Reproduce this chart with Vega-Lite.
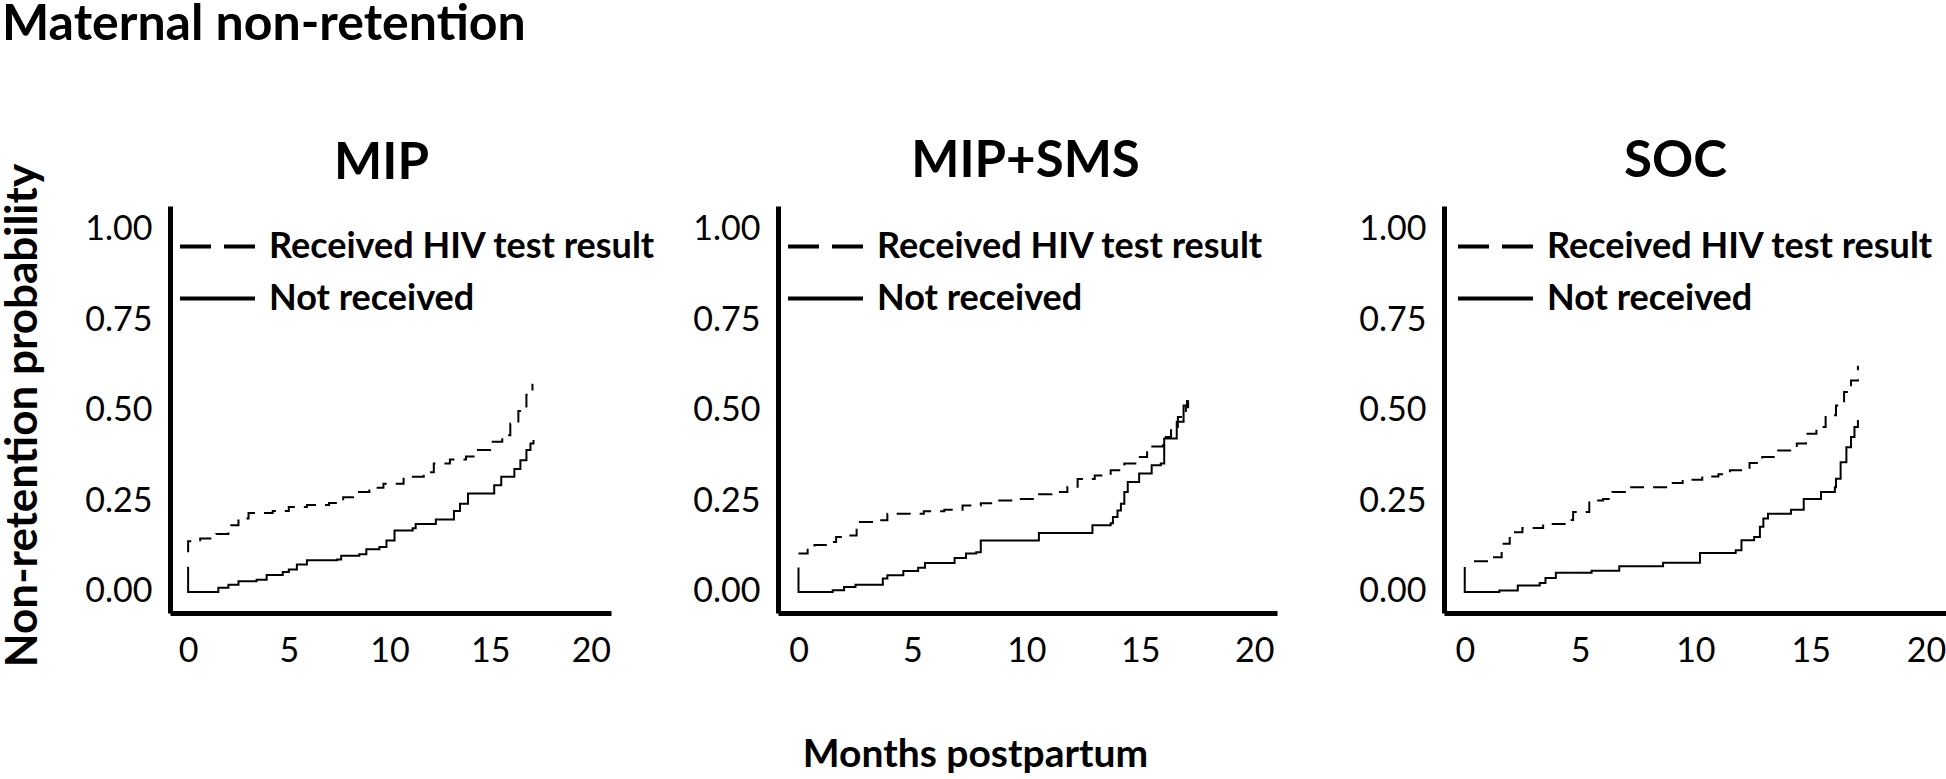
{
"$schema": "https://vega.github.io/schema/vega-lite/v6.json",
"autosize": {"type": "pad"},
"padding": {"left": 0, "top": 0, "right": 0, "bottom": 0},
"background": "white",
"title": {"text": "Maternal non-retention", "anchor": "start", "frame": "group", "fontSize": 50, "fontWeight": "bold", "font": "Lato", "color": "black", "dx": -168, "offset": 86},
"datasets": {"km": [
{"panel":"MIP","g":"Not received","k":0,"t":0,"p":0.07},
{"panel":"MIP","g":"Not received","k":1,"t":0,"p":0},
{"panel":"MIP","g":"Not received","k":2,"t":1.5,"p":0.012},
{"panel":"MIP","g":"Not received","k":3,"t":2.0,"p":0.02},
{"panel":"MIP","g":"Not received","k":4,"t":2.5,"p":0.03},
{"panel":"MIP","g":"Not received","k":5,"t":3.4,"p":0.034},
{"panel":"MIP","g":"Not received","k":6,"t":3.9,"p":0.047},
{"panel":"MIP","g":"Not received","k":7,"t":4.7,"p":0.055},
{"panel":"MIP","g":"Not received","k":8,"t":5.0,"p":0.062},
{"panel":"MIP","g":"Not received","k":9,"t":5.4,"p":0.076},
{"panel":"MIP","g":"Not received","k":10,"t":5.9,"p":0.088},
{"panel":"MIP","g":"Not received","k":11,"t":7.4,"p":0.09},
{"panel":"MIP","g":"Not received","k":12,"t":7.6,"p":0.1},
{"panel":"MIP","g":"Not received","k":13,"t":8.5,"p":0.104},
{"panel":"MIP","g":"Not received","k":14,"t":8.85,"p":0.118},
{"panel":"MIP","g":"Not received","k":15,"t":9.5,"p":0.124},
{"panel":"MIP","g":"Not received","k":16,"t":9.85,"p":0.142},
{"panel":"MIP","g":"Not received","k":17,"t":10.25,"p":0.17},
{"panel":"MIP","g":"Not received","k":18,"t":11.15,"p":0.176},
{"panel":"MIP","g":"Not received","k":19,"t":11.3,"p":0.188},
{"panel":"MIP","g":"Not received","k":20,"t":12.3,"p":0.2},
{"panel":"MIP","g":"Not received","k":21,"t":13.2,"p":0.224},
{"panel":"MIP","g":"Not received","k":22,"t":13.5,"p":0.244},
{"panel":"MIP","g":"Not received","k":23,"t":13.9,"p":0.272},
{"panel":"MIP","g":"Not received","k":24,"t":15.2,"p":0.295},
{"panel":"MIP","g":"Not received","k":25,"t":15.55,"p":0.318},
{"panel":"MIP","g":"Not received","k":26,"t":16.2,"p":0.34},
{"panel":"MIP","g":"Not received","k":27,"t":16.5,"p":0.364},
{"panel":"MIP","g":"Not received","k":28,"t":16.8,"p":0.392},
{"panel":"MIP","g":"Not received","k":29,"t":17.0,"p":0.41},
{"panel":"MIP","g":"Not received","k":30,"t":17.15,"p":0.42},
{"panel":"MIP","g":"Received HIV test result","k":0,"t":0,"p":0.11},
{"panel":"MIP","g":"Received HIV test result","k":1,"t":0,"p":0.14},
{"panel":"MIP","g":"Received HIV test result","k":2,"t":0.6,"p":0.148},
{"panel":"MIP","g":"Received HIV test result","k":3,"t":1.4,"p":0.16},
{"panel":"MIP","g":"Received HIV test result","k":4,"t":2.0,"p":0.184},
{"panel":"MIP","g":"Received HIV test result","k":5,"t":2.5,"p":0.203},
{"panel":"MIP","g":"Received HIV test result","k":6,"t":3.0,"p":0.218},
{"panel":"MIP","g":"Received HIV test result","k":7,"t":4.2,"p":0.224},
{"panel":"MIP","g":"Received HIV test result","k":8,"t":5.0,"p":0.235},
{"panel":"MIP","g":"Received HIV test result","k":9,"t":5.9,"p":0.24},
{"panel":"MIP","g":"Received HIV test result","k":10,"t":7.0,"p":0.246},
{"panel":"MIP","g":"Received HIV test result","k":11,"t":7.7,"p":0.262},
{"panel":"MIP","g":"Received HIV test result","k":12,"t":8.4,"p":0.276},
{"panel":"MIP","g":"Received HIV test result","k":13,"t":9.0,"p":0.288},
{"panel":"MIP","g":"Received HIV test result","k":14,"t":9.7,"p":0.299},
{"panel":"MIP","g":"Received HIV test result","k":15,"t":10.7,"p":0.318},
{"panel":"MIP","g":"Received HIV test result","k":16,"t":11.7,"p":0.331},
{"panel":"MIP","g":"Received HIV test result","k":17,"t":12.2,"p":0.355},
{"panel":"MIP","g":"Received HIV test result","k":18,"t":13.0,"p":0.366},
{"panel":"MIP","g":"Received HIV test result","k":19,"t":13.8,"p":0.374},
{"panel":"MIP","g":"Received HIV test result","k":20,"t":14.3,"p":0.392},
{"panel":"MIP","g":"Received HIV test result","k":21,"t":15.0,"p":0.415},
{"panel":"MIP","g":"Received HIV test result","k":22,"t":15.6,"p":0.433},
{"panel":"MIP","g":"Received HIV test result","k":23,"t":16.0,"p":0.465},
{"panel":"MIP","g":"Received HIV test result","k":24,"t":16.4,"p":0.5},
{"panel":"MIP","g":"Received HIV test result","k":25,"t":16.8,"p":0.545},
{"panel":"MIP","g":"Received HIV test result","k":26,"t":17.1,"p":0.575},
{"panel":"SMS","g":"Not received","k":0,"t":0,"p":0.068},
{"panel":"SMS","g":"Not received","k":1,"t":0,"p":0},
{"panel":"SMS","g":"Not received","k":2,"t":1.5,"p":0.005},
{"panel":"SMS","g":"Not received","k":3,"t":2.0,"p":0.014},
{"panel":"SMS","g":"Not received","k":4,"t":2.5,"p":0.02},
{"panel":"SMS","g":"Not received","k":5,"t":3.7,"p":0.037},
{"panel":"SMS","g":"Not received","k":6,"t":3.9,"p":0.046},
{"panel":"SMS","g":"Not received","k":7,"t":4.6,"p":0.058},
{"panel":"SMS","g":"Not received","k":8,"t":5.25,"p":0.067},
{"panel":"SMS","g":"Not received","k":9,"t":5.55,"p":0.08},
{"panel":"SMS","g":"Not received","k":10,"t":6.85,"p":0.094},
{"panel":"SMS","g":"Not received","k":11,"t":7.35,"p":0.106},
{"panel":"SMS","g":"Not received","k":12,"t":7.8,"p":0.11},
{"panel":"SMS","g":"Not received","k":13,"t":8.0,"p":0.142},
{"panel":"SMS","g":"Not received","k":14,"t":10.55,"p":0.163},
{"panel":"SMS","g":"Not received","k":15,"t":12.9,"p":0.184},
{"panel":"SMS","g":"Not received","k":16,"t":13.7,"p":0.19},
{"panel":"SMS","g":"Not received","k":17,"t":13.8,"p":0.207},
{"panel":"SMS","g":"Not received","k":18,"t":14.0,"p":0.225},
{"panel":"SMS","g":"Not received","k":19,"t":14.15,"p":0.244},
{"panel":"SMS","g":"Not received","k":20,"t":14.3,"p":0.276},
{"panel":"SMS","g":"Not received","k":21,"t":14.45,"p":0.304},
{"panel":"SMS","g":"Not received","k":22,"t":14.95,"p":0.327},
{"panel":"SMS","g":"Not received","k":23,"t":15.5,"p":0.35},
{"panel":"SMS","g":"Not received","k":24,"t":15.9,"p":0.355},
{"panel":"SMS","g":"Not received","k":25,"t":16.05,"p":0.424},
{"panel":"SMS","g":"Not received","k":26,"t":16.6,"p":0.47},
{"panel":"SMS","g":"Not received","k":27,"t":16.9,"p":0.515},
{"panel":"SMS","g":"Not received","k":28,"t":17.05,"p":0.53},
{"panel":"SMS","g":"Received HIV test result","k":0,"t":0,"p":0.106},
{"panel":"SMS","g":"Received HIV test result","k":1,"t":0.4,"p":0.12},
{"panel":"SMS","g":"Received HIV test result","k":2,"t":0.7,"p":0.13},
{"panel":"SMS","g":"Received HIV test result","k":3,"t":1.45,"p":0.138},
{"panel":"SMS","g":"Received HIV test result","k":4,"t":1.65,"p":0.152},
{"panel":"SMS","g":"Received HIV test result","k":5,"t":2.0,"p":0.156},
{"panel":"SMS","g":"Received HIV test result","k":6,"t":2.55,"p":0.193},
{"panel":"SMS","g":"Received HIV test result","k":7,"t":3.35,"p":0.198},
{"panel":"SMS","g":"Received HIV test result","k":8,"t":3.9,"p":0.216},
{"panel":"SMS","g":"Received HIV test result","k":9,"t":5.5,"p":0.223},
{"panel":"SMS","g":"Received HIV test result","k":10,"t":6.4,"p":0.227},
{"panel":"SMS","g":"Received HIV test result","k":11,"t":7.2,"p":0.239},
{"panel":"SMS","g":"Received HIV test result","k":12,"t":8.0,"p":0.245},
{"panel":"SMS","g":"Received HIV test result","k":13,"t":8.75,"p":0.253},
{"panel":"SMS","g":"Received HIV test result","k":14,"t":9.5,"p":0.257},
{"panel":"SMS","g":"Received HIV test result","k":15,"t":10.35,"p":0.27},
{"panel":"SMS","g":"Received HIV test result","k":16,"t":11.1,"p":0.276},
{"panel":"SMS","g":"Received HIV test result","k":17,"t":11.8,"p":0.291},
{"panel":"SMS","g":"Received HIV test result","k":18,"t":12.25,"p":0.312},
{"panel":"SMS","g":"Received HIV test result","k":19,"t":13.0,"p":0.322},
{"panel":"SMS","g":"Received HIV test result","k":20,"t":13.7,"p":0.336},
{"panel":"SMS","g":"Received HIV test result","k":21,"t":14.3,"p":0.355},
{"panel":"SMS","g":"Received HIV test result","k":22,"t":14.9,"p":0.373},
{"panel":"SMS","g":"Received HIV test result","k":23,"t":15.3,"p":0.402},
{"panel":"SMS","g":"Received HIV test result","k":24,"t":16.0,"p":0.428},
{"panel":"SMS","g":"Received HIV test result","k":25,"t":16.35,"p":0.456},
{"panel":"SMS","g":"Received HIV test result","k":26,"t":16.65,"p":0.483},
{"panel":"SMS","g":"Received HIV test result","k":27,"t":17.0,"p":0.51},
{"panel":"SMS","g":"Received HIV test result","k":28,"t":17.1,"p":0.55},
{"panel":"SOC","g":"Not received","k":0,"t":0,"p":0.069},
{"panel":"SOC","g":"Not received","k":1,"t":0,"p":0},
{"panel":"SOC","g":"Not received","k":2,"t":1.5,"p":0.004},
{"panel":"SOC","g":"Not received","k":3,"t":2.3,"p":0.018},
{"panel":"SOC","g":"Not received","k":4,"t":3.25,"p":0.025},
{"panel":"SOC","g":"Not received","k":5,"t":3.5,"p":0.039},
{"panel":"SOC","g":"Not received","k":6,"t":3.95,"p":0.053},
{"panel":"SOC","g":"Not received","k":7,"t":5.5,"p":0.059},
{"panel":"SOC","g":"Not received","k":8,"t":6.7,"p":0.071},
{"panel":"SOC","g":"Not received","k":9,"t":8.6,"p":0.081},
{"panel":"SOC","g":"Not received","k":10,"t":10.2,"p":0.108},
{"panel":"SOC","g":"Not received","k":11,"t":11.75,"p":0.115},
{"panel":"SOC","g":"Not received","k":12,"t":12.0,"p":0.143},
{"panel":"SOC","g":"Not received","k":13,"t":12.55,"p":0.152},
{"panel":"SOC","g":"Not received","k":14,"t":12.8,"p":0.18},
{"panel":"SOC","g":"Not received","k":15,"t":12.95,"p":0.203},
{"panel":"SOC","g":"Not received","k":16,"t":13.15,"p":0.216},
{"panel":"SOC","g":"Not received","k":17,"t":14.15,"p":0.227},
{"panel":"SOC","g":"Not received","k":18,"t":14.7,"p":0.257},
{"panel":"SOC","g":"Not received","k":19,"t":15.45,"p":0.276},
{"panel":"SOC","g":"Not received","k":20,"t":16.05,"p":0.289},
{"panel":"SOC","g":"Not received","k":21,"t":16.1,"p":0.313},
{"panel":"SOC","g":"Not received","k":22,"t":16.3,"p":0.358},
{"panel":"SOC","g":"Not received","k":23,"t":16.55,"p":0.4},
{"panel":"SOC","g":"Not received","k":24,"t":16.75,"p":0.428},
{"panel":"SOC","g":"Not received","k":25,"t":16.9,"p":0.456},
{"panel":"SOC","g":"Not received","k":26,"t":17.05,"p":0.475},
{"panel":"SOC","g":"Received HIV test result","k":0,"t":0.4,"p":0.085},
{"panel":"SOC","g":"Received HIV test result","k":1,"t":1.2,"p":0.096},
{"panel":"SOC","g":"Received HIV test result","k":2,"t":1.6,"p":0.133},
{"panel":"SOC","g":"Received HIV test result","k":3,"t":1.95,"p":0.165},
{"panel":"SOC","g":"Received HIV test result","k":4,"t":2.5,"p":0.177},
{"panel":"SOC","g":"Received HIV test result","k":5,"t":3.4,"p":0.188},
{"panel":"SOC","g":"Received HIV test result","k":6,"t":4.45,"p":0.199},
{"panel":"SOC","g":"Received HIV test result","k":7,"t":4.7,"p":0.221},
{"panel":"SOC","g":"Received HIV test result","k":8,"t":5.4,"p":0.253},
{"panel":"SOC","g":"Received HIV test result","k":9,"t":6.0,"p":0.257},
{"panel":"SOC","g":"Received HIV test result","k":10,"t":6.4,"p":0.276},
{"panel":"SOC","g":"Received HIV test result","k":11,"t":7.1,"p":0.289},
{"panel":"SOC","g":"Received HIV test result","k":12,"t":8.9,"p":0.301},
{"panel":"SOC","g":"Received HIV test result","k":13,"t":9.45,"p":0.31},
{"panel":"SOC","g":"Received HIV test result","k":14,"t":10.3,"p":0.319},
{"panel":"SOC","g":"Received HIV test result","k":15,"t":11.0,"p":0.325},
{"panel":"SOC","g":"Received HIV test result","k":16,"t":11.5,"p":0.336},
{"panel":"SOC","g":"Received HIV test result","k":17,"t":12.35,"p":0.356},
{"panel":"SOC","g":"Received HIV test result","k":18,"t":12.9,"p":0.373},
{"panel":"SOC","g":"Received HIV test result","k":19,"t":13.5,"p":0.391},
{"panel":"SOC","g":"Received HIV test result","k":20,"t":14.4,"p":0.41},
{"panel":"SOC","g":"Received HIV test result","k":21,"t":14.8,"p":0.437},
{"panel":"SOC","g":"Received HIV test result","k":22,"t":15.25,"p":0.456},
{"panel":"SOC","g":"Received HIV test result","k":23,"t":15.65,"p":0.488},
{"panel":"SOC","g":"Received HIV test result","k":24,"t":16.1,"p":0.515},
{"panel":"SOC","g":"Received HIV test result","k":25,"t":16.45,"p":0.552},
{"panel":"SOC","g":"Received HIV test result","k":26,"t":16.75,"p":0.584},
{"panel":"SOC","g":"Received HIV test result","k":27,"t":17.05,"p":0.625}
]},
"bounds": "flush",
"spacing": 167,
"resolve": {"scale": {"strokeDash": "independent"}, "legend": {"strokeDash": "independent"}},
"hconcat": [
{
 "width": 441, "height": 407,
 "title": {"text": "MIP", "dx": -9, "offset": -27},
 "data": {"name": "km"},
 "transform": [{"filter": "datum.panel === 'MIP'"}],
 "encoding": {
  "x": {"field": "t", "type": "quantitative", "scale": {"domain": [-0.9, 21], "nice": false, "zero": false}, "axis": {"values": [0,5,10,15,20], "title": null}},
  "y": {"field": "p", "type": "quantitative", "scale": {"domain": [-0.058, 1.066], "nice": false, "zero": false}, "axis": {"values": [0,0.25,0.5,0.75,1], "format": ".2f", "title": "Non-retention probability", "titleX": -147, "titleY": 209, "titleAlign": "center", "titleBaseline": "middle", "titleAngle": -90}},
  "order": {"field": "k", "type": "quantitative"}
 },
 "layer": [
  {"mark": {"type": "line", "interpolate": "step-after", "strokeWidth": 2, "color": "black"},
   "encoding": {"strokeDash": {"field": "g", "type": "nominal", "scale": {"domain": ["Received HIV test result", "Not received"], "range": [[14, 9], [1, 0]]}, "legend": null}}},
  {"transform": [{"filter": "datum.k === 0 && datum.g === 'Received HIV test result'"}],
   "mark": {"type": "line", "color": "black"},
   "encoding": {"strokeDash": {"field": "g", "type": "nominal", "scale": {"domain": ["Received HIV test result"], "range": [[31, 13]]}, "legend": {"legendX": 8, "legendY": 1}}}},
  {"transform": [{"filter": "datum.k === 0 && datum.g === 'Not received'"}],
   "mark": {"type": "line", "color": "black"},
   "encoding": {"strokeDash": {"field": "g", "type": "nominal", "scale": {"domain": ["Not received"], "range": [[1, 0]]}, "legend": {"legendX": 8, "legendY": 53}}}}
 ],
 "resolve": {"scale": {"strokeDash": "independent"}, "legend": {"strokeDash": "independent"}}
},
{
 "width": 499, "height": 407,
 "title": {"text": "MIP+SMS", "dx": -2, "offset": 18},
 "data": {"name": "km"},
 "transform": [{"filter": "datum.panel === 'SMS'"}],
 "encoding": {
  "x": {"field": "t", "type": "quantitative", "scale": {"domain": [-0.9, 21], "nice": false, "zero": false}, "axis": {"values": [0,5,10,15,20], "title": "Months postpartum", "titleFontSize": 39, "titleX": 197, "titleY": 141, "titleAlign": "center", "titleBaseline": "middle"}},
  "y": {"field": "p", "type": "quantitative", "scale": {"domain": [-0.058, 1.066], "nice": false, "zero": false}, "axis": {"values": [0,0.25,0.5,0.75,1], "format": ".2f", "title": null}},
  "order": {"field": "k", "type": "quantitative"}
 },
 "layer": [
  {"mark": {"type": "line", "interpolate": "step-after", "strokeWidth": 2, "color": "black"},
   "encoding": {"strokeDash": {"field": "g", "type": "nominal", "scale": {"domain": ["Received HIV test result", "Not received"], "range": [[14, 9], [1, 0]]}, "legend": null}}},
  {"transform": [{"filter": "datum.k === 0 && datum.g === 'Received HIV test result'"}],
   "mark": {"type": "line", "color": "black"},
   "encoding": {"strokeDash": {"field": "g", "type": "nominal", "scale": {"domain": ["Received HIV test result"], "range": [[31, 13]]}, "legend": {"legendX": 8, "legendY": 1}}}},
  {"transform": [{"filter": "datum.k === 0 && datum.g === 'Not received'"}],
   "mark": {"type": "line", "color": "black"},
   "encoding": {"strokeDash": {"field": "g", "type": "nominal", "scale": {"domain": ["Not received"], "range": [[1, 0]]}, "legend": {"legendX": 8, "legendY": 53}}}}
 ],
 "resolve": {"scale": {"strokeDash": "independent"}, "legend": {"strokeDash": "independent"}}
},
{
 "width": 505, "height": 407,
 "title": {"text": "SOC", "dx": -21, "offset": 18},
 "data": {"name": "km"},
 "transform": [{"filter": "datum.panel === 'SOC'"}],
 "encoding": {
  "x": {"field": "t", "type": "quantitative", "scale": {"domain": [-0.9, 21], "nice": false, "zero": false}, "axis": {"values": [0,5,10,15,20], "title": null}},
  "y": {"field": "p", "type": "quantitative", "scale": {"domain": [-0.058, 1.066], "nice": false, "zero": false}, "axis": {"values": [0,0.25,0.5,0.75,1], "format": ".2f", "title": null}},
  "order": {"field": "k", "type": "quantitative"}
 },
 "layer": [
  {"mark": {"type": "line", "interpolate": "step-after", "strokeWidth": 2, "color": "black"},
   "encoding": {"strokeDash": {"field": "g", "type": "nominal", "scale": {"domain": ["Received HIV test result", "Not received"], "range": [[14, 9], [1, 0]]}, "legend": null}}},
  {"transform": [{"filter": "datum.k === 0 && datum.g === 'Received HIV test result'"}],
   "mark": {"type": "line", "color": "black"},
   "encoding": {"strokeDash": {"field": "g", "type": "nominal", "scale": {"domain": ["Received HIV test result"], "range": [[31, 13]]}, "legend": {"legendX": 12, "legendY": 1}}}},
  {"transform": [{"filter": "datum.k === 0 && datum.g === 'Not received'"}],
   "mark": {"type": "line", "color": "black"},
   "encoding": {"strokeDash": {"field": "g", "type": "nominal", "scale": {"domain": ["Not received"], "range": [[1, 0]]}, "legend": {"legendX": 12, "legendY": 53}}}}
 ],
 "resolve": {"scale": {"strokeDash": "independent"}, "legend": {"strokeDash": "independent"}}
}
],
"config": {
 "view": {"stroke": null},
 "font": "Lato",
 "title": {"font": "Lato", "fontSize": 51, "fontWeight": "bold", "color": "black", "anchor": "middle"},
 "axis": {"domainColor": "black", "domainWidth": 5, "ticks": false, "tickSize": 0, "grid": false, "labelFont": "Lato", "labelFontSize": 34, "labelColor": "black", "labelFlush": false, "labelOverlap": false, "titleFont": "Lato", "titleFontSize": 44, "titleFontWeight": "bold", "titleColor": "black"},
 "axisX": {"labelPadding": 38, "labelBaseline": "middle"},
 "axisY": {"labelPadding": 18, "labelBaseline": "middle", "labelAlign": "right"},
 "legend": {"orient": "none", "title": null, "padding": 0, "rowPadding": 0, "symbolType": "stroke", "symbolSize": 5625, "symbolStrokeWidth": 4, "symbolStrokeColor": "black", "labelFont": "Lato", "labelFontSize": 36, "labelFontWeight": "bold", "labelColor": "black", "labelOffset": 12, "labelLimit": 0}
}
}
